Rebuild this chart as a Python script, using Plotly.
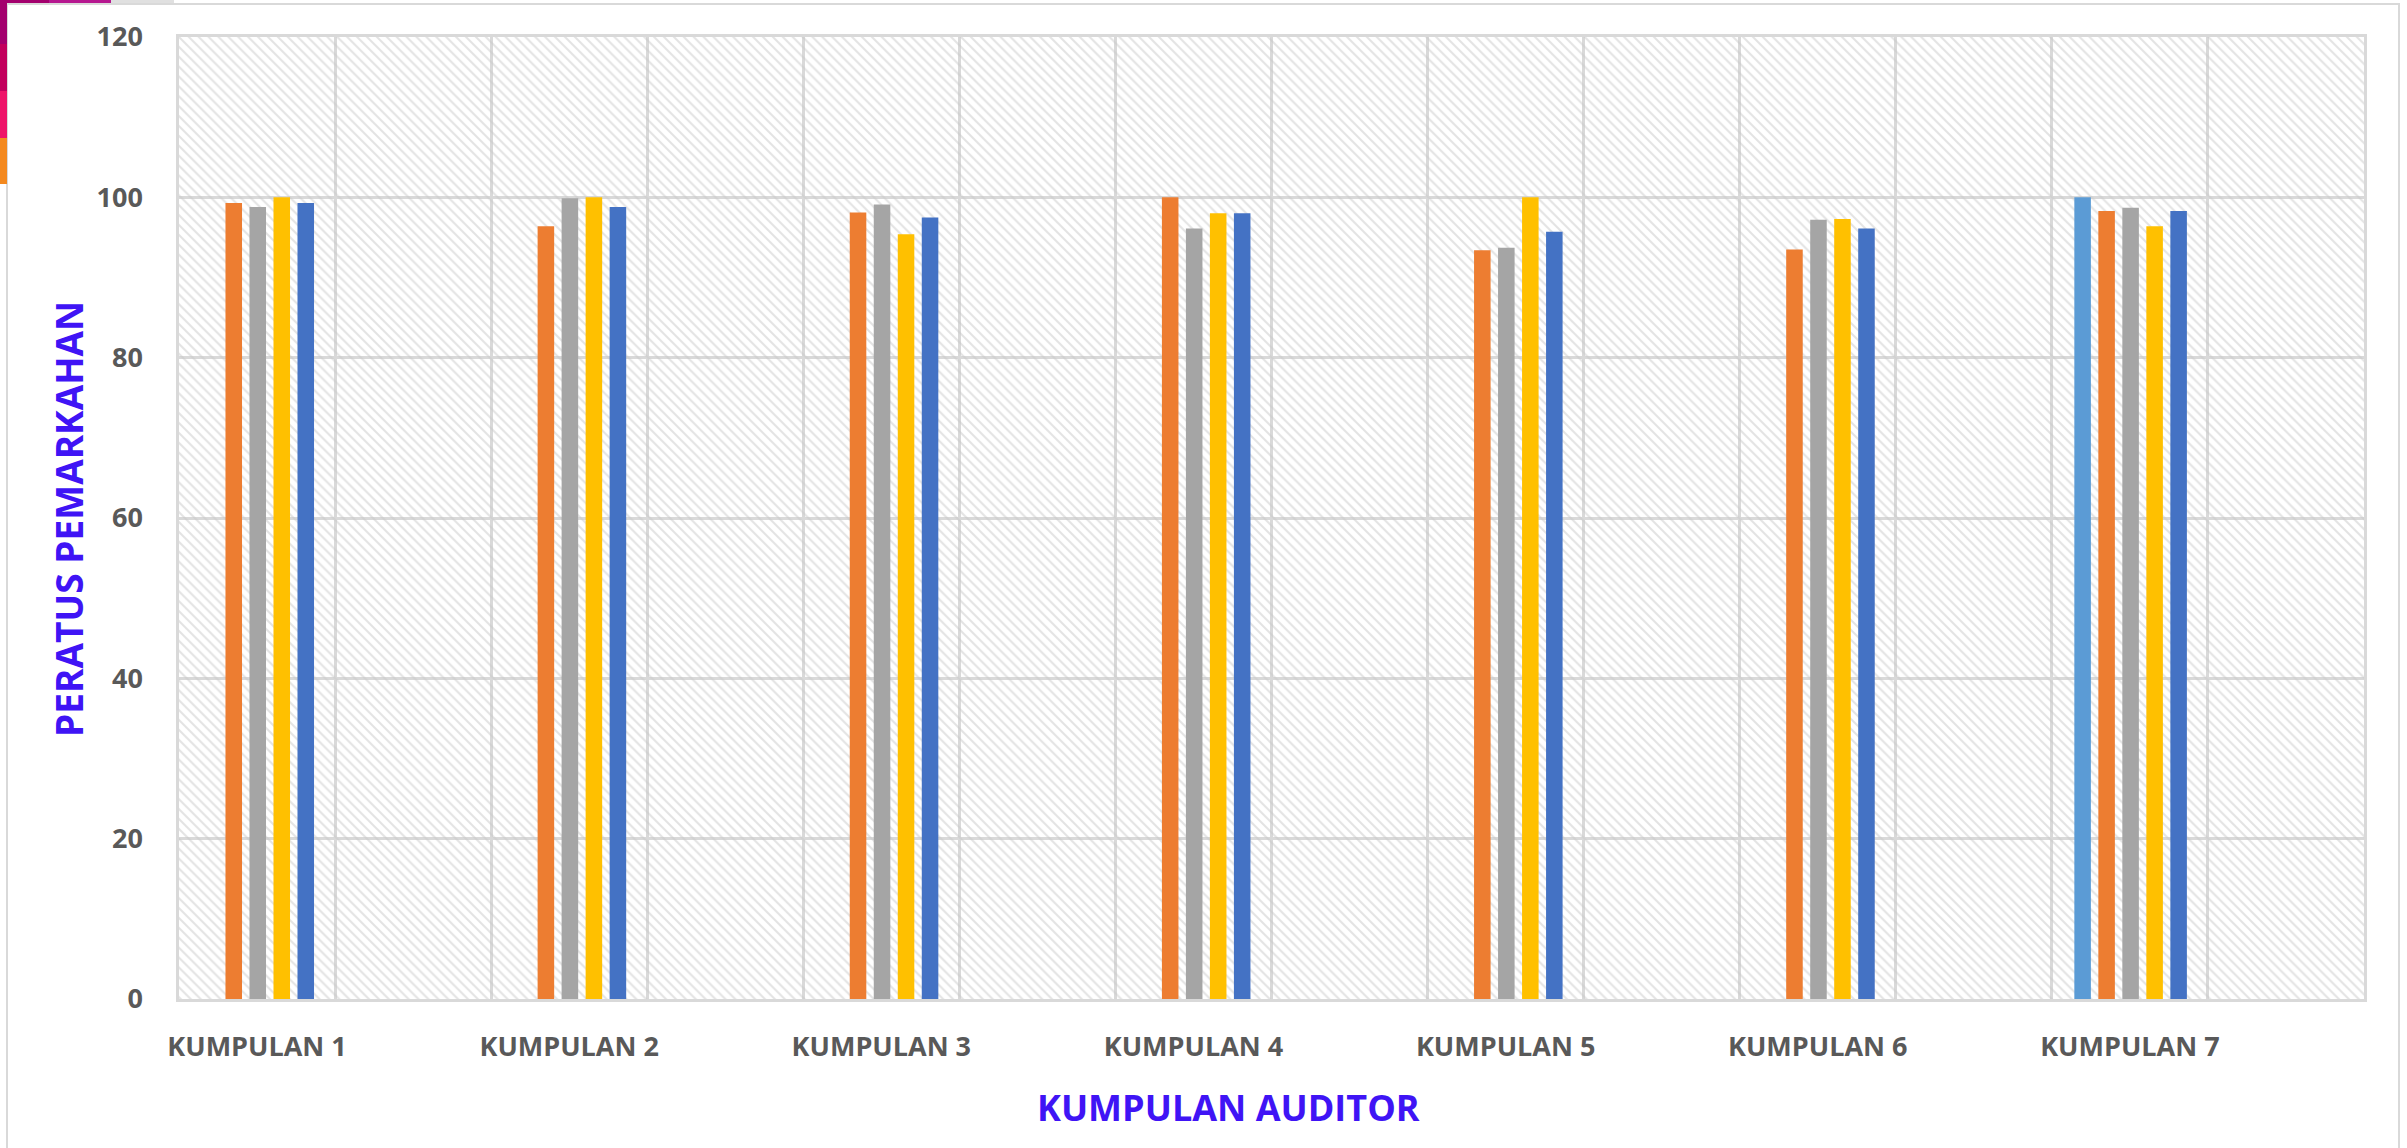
import plotly.graph_objects as go

# ---- data ----
categories = ["KUMPULAN 1", "KUMPULAN 2", "KUMPULAN 3", "KUMPULAN 4",
              "KUMPULAN 5", "KUMPULAN 6", "KUMPULAN 7"]
series_names = ["Siri 1", "Siri 2", "Siri 3", "Siri 4", "Siri 5"]
siri1 = [None, None, None, None, None, None, 100.0]
siri2 = [99.3, 96.4, 98.1, 100.0, 93.4, 93.5, 98.3]
siri3 = [98.8, 99.9, 99.1, 96.1, 93.7, 97.2, 98.7]
siri4 = [100.0, 100.0, 95.4, 98.0, 100.0, 97.3, 96.4]
siri5 = [99.3, 98.8, 97.5, 98.0, 95.7, 96.1, 98.3]
y_ticks = [0, 20, 40, 60, 80, 100, 120]
x_title = "KUMPULAN AUDITOR"
y_title = "PERATUS PEMARKAHAN"

# ---- styles ----
colors = ["#5B9BD5", "#ED7D31", "#A5A5A5", "#FFC000", "#4472C4"]
W, H = 2407, 1148
L, R, T, B = 179, 43, 37, 149
PW, PH = W - L - R, H - T - B
GRID = "#d9d9d9"
TICK_FONT = dict(family="Open Sans", size=27, color="#595959", weight="bold")
TITLE_COLOR = "#3F14F5"

slot = 0.0769
bar_w = 0.053
first_off = -0.5 + 0.072

xs = list(range(len(categories)))
ymax = y_ticks[-1]

fig = go.Figure()

# hatched plot background
fig.add_trace(go.Bar(
    x=[(len(categories) - 1) / 2], y=[ymax], width=[len(categories)],
    marker=dict(color="rgba(0,0,0,0)", line=dict(width=0),
                pattern=dict(shape="\\", fgcolor="#c8c8c8", bgcolor="rgba(0,0,0,0)",
                             size=7, solidity=0.3, fillmode="overlay")),
    hoverinfo="skip", showlegend=False))

for i, (name, vals) in enumerate(zip(series_names, [siri1, siri2, siri3, siri4, siri5])):
    fig.add_trace(go.Bar(
        x=xs, y=vals, name=name,
        width=bar_w, offset=first_off + i * slot,
        marker=dict(color=colors[i], line=dict(width=0)),
        showlegend=False))


def px(x):
    return (x - L) / PW


def py(y):
    return (H - B - y) / PH


shapes = []
# outer chart frame
shapes.append(dict(type="rect", xref="paper", yref="paper",
                   x0=px(7), x1=px(2399), y0=py(1200), y1=py(4),
                   line=dict(color=GRID, width=2), fillcolor="rgba(0,0,0,0)", layer="below"))
# decorative slide strips (left edge)
for (y0, y1, c) in [(0, 44, "#A3006D"), (44, 91, "#C2005C"),
                    (91, 138, "#EE1469"), (138, 184, "#F4891F")]:
    shapes.append(dict(type="rect", xref="paper", yref="paper",
                       x0=px(0), x1=px(7), y0=py(y1), y1=py(y0),
                       line=dict(width=0), fillcolor=c))
# decorative slide strips (top edge)
for (x0, x1, c) in [(0, 49, "#A3006D"), (49, 111, "#B5178F"), (111, 174, "#E0E0E0")]:
    shapes.append(dict(type="rect", xref="paper", yref="paper",
                       x0=px(x0), x1=px(x1), y0=py(3), y1=py(0),
                       line=dict(width=0), fillcolor=c))

fig.update_layout(
    width=W, height=H,
    margin=dict(l=L, r=R, t=T, b=B, pad=0),
    paper_bgcolor="white", plot_bgcolor="white",
    barmode="overlay",
    shapes=shapes,
    xaxis=dict(
        range=[-0.5, len(categories) - 0.5],
        tickmode="array", tickvals=[x - 0.25 for x in xs], ticktext=categories,
        tickfont=TICK_FONT, ticks="", ticklabelstandoff=22,
        showgrid=False, zeroline=False,
        showline=True, linecolor=GRID, linewidth=2.5, mirror=True,
        minor=dict(tick0=-0.5, dtick=0.5, showgrid=True, gridcolor=GRID, gridwidth=2.5, ticks=""),
        fixedrange=True,
    ),
    yaxis=dict(
        range=[0, ymax], tickmode="array", tickvals=y_ticks,
        tickfont=TICK_FONT, ticks="", ticklabelstandoff=28,
        showgrid=True, gridcolor=GRID, gridwidth=2.5, zeroline=False,
        showline=True, linecolor=GRID, linewidth=2.5, mirror=True,
        fixedrange=True,
    ),
    annotations=[
        dict(text=x_title, xref="paper", yref="paper", x=px(1228), y=py(1107),
             xanchor="center", yanchor="middle", showarrow=False,
             font=dict(family="Open Sans", size=36, color=TITLE_COLOR, weight="bold")),
        dict(text=y_title, xref="paper", yref="paper", x=px(68), y=py(519),
             xanchor="center", yanchor="middle", showarrow=False, textangle=-90,
             font=dict(family="Open Sans", size=37, color=TITLE_COLOR, weight="bold")),
    ],
    font=dict(family="Open Sans"),
)

fig.write_html("out.html", config=dict(displayModeBar=False),
               post_script="document.body.style.margin='0';document.body.style.overflow='hidden';")
